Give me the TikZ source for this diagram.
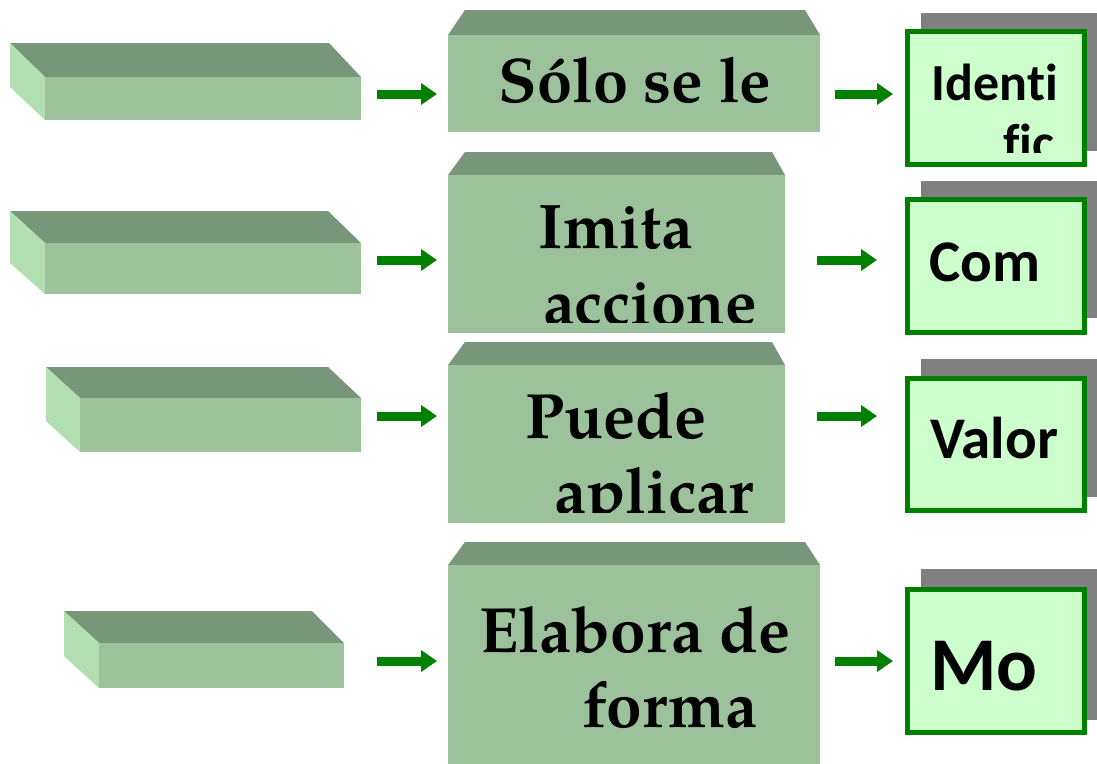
\documentclass[tikz,border=0pt]{standalone}
\usepackage{fontspec}
\usetikzlibrary{arrows.meta,calc}
\newfontfamily\palb{texgyrepagella-bold.otf}
\newfontfamily\calib{Carlito}[Ligatures={NoCommon,NoRare,NoContextual}]
\definecolor{frontg}{HTML}{9BC29A}
\definecolor{topg}{HTML}{77967A}
\definecolor{sideg}{HTML}{B1DFB1}
\definecolor{darkg}{HTML}{008000}
\definecolor{lightg}{HTML}{CCFFCC}
\definecolor{shadowg}{HTML}{808080}
\tikzset{
  lfront/.style={fill=frontg, draw=none, inner sep=0pt, outer sep=0pt, anchor=north west},
  topface/.style={fill=topg, draw=none},
  sideface/.style={fill=sideg, draw=none},
  rbox/.style={fill=lightg, draw=darkg, line width=5pt, inner sep=0pt, outer sep=0pt, anchor=north west, minimum width=177pt},
  rshadow/.style={fill=shadowg},
  mtext/.style={anchor=base, inner sep=0pt, font=\palb\fontsize{63}{75}\selectfont},
  rtext/.style={anchor=base, inner sep=0pt, font=\calib\bfseries\fontsize{59}{70}\selectfont},
  arr/.style={draw=darkg, line width=9pt, -{Triangle[length=16pt,width=21pt]}},
}
\begin{document}
\begin{tikzpicture}[x=1pt,y=1pt]
\clip (0,0) rectangle (1097,-763);
\fill[white] (0,0) rectangle (1097,-763);

% row y coordinates for arrows
\coordinate (ry1) at (0,-94);
\coordinate (ry2) at (0,-260);
\coordinate (ry3) at (0,-416);
\coordinate (ry4) at (0,-661);

% ---------- left boxes ----------
\fill[topface] (10,-43) -- (329,-43) -- (361,-77) -- (45,-77) -- cycle;
\fill[sideface] (10,-43) -- (45,-77) -- (45,-120) -- (10,-87) -- cycle;
\node[lfront, minimum width=316pt, minimum height=43pt] (L1) at (45,-77) {};

\fill[topface] (10,-211) -- (328,-211) -- (361,-243) -- (45,-243) -- cycle;
\fill[sideface] (10,-211) -- (45,-243) -- (45,-294) -- (10,-263) -- cycle;
\node[lfront, minimum width=316pt, minimum height=51pt] (L2) at (45,-243) {};

\fill[topface] (46,-367) -- (328,-367) -- (361,-398) -- (80,-398) -- cycle;
\fill[sideface] (46,-367) -- (80,-398) -- (80,-452) -- (46,-421) -- cycle;
\node[lfront, minimum width=281pt, minimum height=54pt] (L3) at (80,-398) {};

\fill[topface] (64,-611) -- (312,-611) -- (344,-643) -- (99,-643) -- cycle;
\fill[sideface] (64,-611) -- (99,-643) -- (99,-688) -- (64,-656) -- cycle;
\node[lfront, minimum width=245pt, minimum height=45pt] (L4) at (99,-643) {};

% ---------- middle boxes ----------
\fill[topface] (465,-10) -- (805,-10) -- (820,-35) -- (448,-35) -- cycle;
\node[lfront, minimum width=372pt, minimum height=97pt] (M1) at (448,-35) {};
\node[mtext] (T1) at (635,-102) {Sólo se le};

\fill[topface] (465,-152) -- (772,-152) -- (785,-175) -- (448,-175) -- cycle;
\node[lfront, minimum width=337pt, minimum height=158pt] (M2) at (448,-175) {};
\begin{scope}
\clip (448,-175) rectangle (785,-322);
\node[mtext] (T2a) at (616,-248) {Imita};
\node[mtext] (T2b) at (650,-324) {accione};
\end{scope}

\fill[topface] (465,-342) -- (772,-342) -- (785,-365) -- (448,-365) -- cycle;
\node[lfront, minimum width=337pt, minimum height=158pt] (M3) at (448,-365) {};
\begin{scope}
\clip (448,-365) rectangle (785,-512);
\node[mtext, font=\palb\fontsize{64}{75}\selectfont] (T3a) at (616,-438) {Puede};
\node[mtext, font=\palb\fontsize{64}{75}\selectfont] (T3b) at (654,-513) {aplicar};
\end{scope}

\fill[topface] (465,-542) -- (805,-542) -- (820,-565) -- (448,-565) -- cycle;
\node[lfront, minimum width=372pt, minimum height=240pt] (M4) at (448,-565) {};
\node[mtext, font=\palb\fontsize{64}{75}\selectfont] (T4a) at (635,-652) {Elabora de};
\node[mtext, font=\palb\fontsize{64}{75}\selectfont] (T4b) at (670,-727) {forma};

% ---------- right boxes ----------
\fill[rshadow] (921,-13) rectangle (1103,-151);
\node[rbox, minimum height=133pt] (R1) at (907.5,-31.5) {};
\begin{scope}
\clip (907.5,-31.5) rectangle (1084.5,-152);
\node[rtext, font=\calib\bfseries\fontsize{52}{62}\selectfont] (U1a) at (995,-100) {Identi};
\node[rtext, font=\calib\bfseries\fontsize{52}{62}\selectfont, anchor=base west] (U1b) at (1003,-160) {fic};
\end{scope}

\fill[rshadow] (921,-181) rectangle (1103,-318);
\node[rbox, minimum height=133pt] (R2) at (907.5,-199.5) {};
\node[rtext] (U2) at (985,-281) {Com};

\fill[rshadow] (921,-359) rectangle (1103,-497);
\node[rbox, minimum height=132pt] (R3) at (907.5,-378.5) {};
\node[rtext] (U3) at (994,-458) {Valor};

\fill[rshadow] (921,-569) rectangle (1103,-720);
\node[rbox, minimum height=143pt] (R4) at (907.5,-589.5) {};
\node[rtext, font=\calib\bfseries\fontsize{76}{90}\selectfont] (U4) at (984,-690) {Mo};

% ---------- arrows ----------
\draw[arr, shorten <=16pt, shorten >=11pt] (L1.east |- ry1) -- (M1.west |- ry1);
\draw[arr, shorten <=15pt, shorten >=14.5pt] (M1.east |- ry1) -- (R1.west |- ry1);
\draw[arr, shorten <=16pt, shorten >=11pt] (L2.east |- ry2) -- (M2.west |- ry2);
\draw[arr, shorten <=32pt, shorten >=30.5pt] (M2.east |- ry2) -- (R2.west |- ry2);
\draw[arr, shorten <=16pt, shorten >=11pt] (L3.east |- ry3) -- (M3.west |- ry3);
\draw[arr, shorten <=32pt, shorten >=30.5pt] (M3.east |- ry3) -- (R3.west |- ry3);
\draw[arr, shorten <=33pt, shorten >=11pt] (L4.east |- ry4) -- (M4.west |- ry4);
\draw[arr, shorten <=15pt, shorten >=14.5pt] (M4.east |- ry4) -- (R4.west |- ry4);
\end{tikzpicture}
\end{document}
